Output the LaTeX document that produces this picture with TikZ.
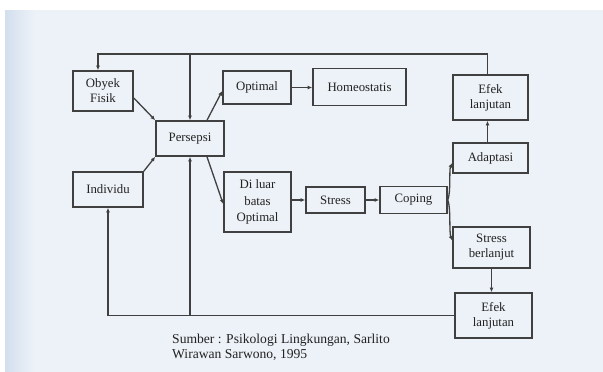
\documentclass[tikz,border=0pt]{standalone}
\usepackage{fontspec}
\setmainfont{Liberation Serif}
\usetikzlibrary{arrows.meta}
\definecolor{bgc}{HTML}{EDF2F8}
\definecolor{ink}{HTML}{404040}
\definecolor{txt}{HTML}{222222}
\definecolor{strip}{HTML}{D3DFEE}
\begin{document}
\begin{tikzpicture}[x=1pt,y=-1pt,
  box/.style={draw=ink, line width=1.6pt, fill=bgc, inner sep=0pt, align=center,
    text=txt, font=\fontsize{12.8}{15}\selectfont},
  conn/.style={draw=ink, line width=1.3pt, -{Latex[length=4.5pt,width=4pt]}},
  plain/.style={draw=ink, line width=1.3pt}]
\useasboundingbox (0,0) rectangle (603,372);
\fill[white] (0,0) rectangle (603,372);
\fill[bgc] (5,10) rectangle (603,372);
\shade[left color=strip, right color=bgc] (5,10) rectangle (35,372);

% nodes
\node[box, minimum width=60pt, minimum height=40pt] (obyek) at (103,91) {Obyek\\Fisik};
\node[box, minimum width=68pt, minimum height=35pt] (persepsi) at (190,138.5) {Persepsi};
\node[box, minimum width=68pt, minimum height=33pt] (optimal) at (257,87.5) {Optimal};
\node[box, minimum width=93pt, minimum height=37pt] (homeo) at (359.5,87) {Homeostatis};
\node[box, minimum width=70pt, minimum height=35pt] (individu) at (108,189.5) {Individu};
\node[box, minimum width=67pt, minimum height=60pt, font=\fontsize{12.8}{16.5}\selectfont] (diluar) at (257.5,202) {Di luar\\batas\\Optimal};
\node[box, minimum width=59pt, minimum height=26pt] (stress) at (335.5,200) {Stress};
\node[box, minimum width=67pt, minimum height=27pt] (coping) at (413.5,200) {Coping};
\node[box, minimum width=75pt, minimum height=45pt] (efeka) at (490.5,97.5) {Efek\\lanjutan};
\node[box, minimum width=75pt, minimum height=30pt] (adaptasi) at (490.5,158) {Adaptasi};
\node[box, minimum width=77pt, minimum height=41pt] (stressb) at (491.5,247.5) {Stress\\berlanjut};
\node[box, minimum width=77pt, minimum height=45pt] (efekb) at (493.5,315.5) {Efek\\lanjutan};

\node[anchor=north west, align=left, text=txt, font=\fontsize{13.6}{15}\selectfont, inner sep=0pt] (src) at (172,334)
  {Sumber : Psikologi Lingkungan, Sarlito\\Wirawan Sarwono, 1995};

\coordinate (topy) at (0,54);

% connectors
\draw[conn] ([yshift=-7pt]obyek.east) -- (persepsi.north west);
\draw[conn] (individu.north east) -- (persepsi.south west);
\draw[conn] ([xshift=17pt]persepsi.north) -- ([yshift=-3.5pt]optimal.west);
\draw[conn] ([xshift=17pt]persepsi.south) -- ([yshift=-2pt]diluar.west);
\draw[conn] (optimal.east) -- (optimal.east -| homeo.west);
\draw[conn] (stress.west -| diluar.east) -- (stress.west);
\draw[conn] (stress.east) -- (stress.east -| coping.west);
\draw[conn] (coping.east) .. controls (451,192) and (449,170) .. ([yshift=-5pt]adaptasi.west);
\draw[conn] (coping.east) .. controls (451,208) and (449,232) .. ([yshift=7pt]stressb.west);
\draw[conn] ([xshift=-3pt]adaptasi.north) -- ([xshift=-3pt]efeka.south);
\draw[conn] (stressb.south) -- (stressb.south |- efekb.north);

% feedback loops
\draw[conn] ([xshift=-3pt]efeka.north) -- ([xshift=-3pt]efeka.north |- topy)
  -- ([xshift=-5pt]obyek.north |- topy) -- ([xshift=-5pt]obyek.north);
\draw[conn] (persepsi.north |- topy) -- (persepsi.north);
\draw[conn] (efekb.west) -- (efekb.west -| individu.south) -- (individu.south);
\draw[conn] (efekb.west -| persepsi.south) -- (persepsi.south);
\end{tikzpicture}
\end{document}
